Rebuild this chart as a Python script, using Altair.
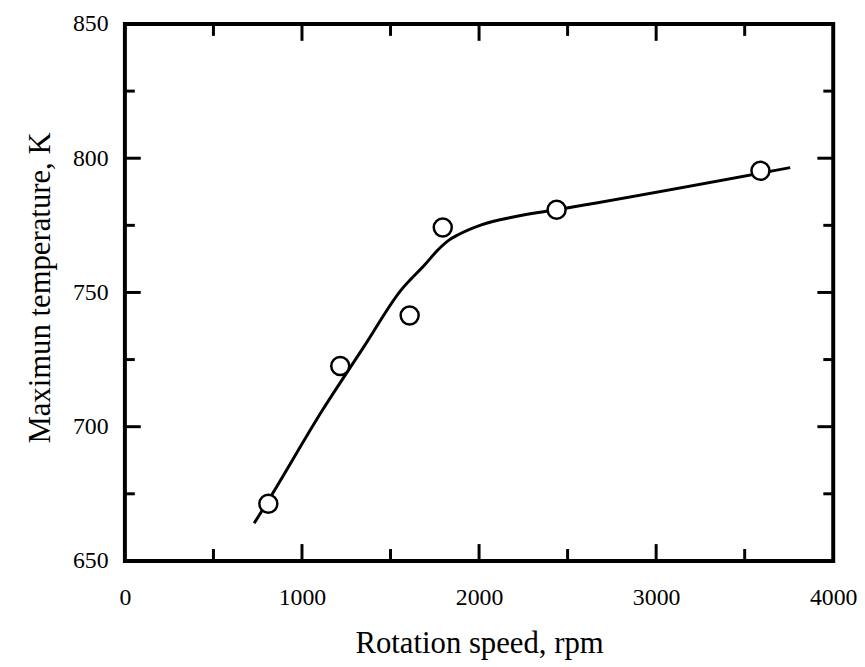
import altair as alt
import pandas as pd

# Observed data (circles)
rpm_obs = [810, 1216, 1608, 1795, 2438, 3589]
temp_obs = [671.3, 722.6, 741.4, 774.2, 780.8, 795.3]

# Fitted curve
curve_rpm = [730, 810, 1117, 1350, 1556, 1696, 1770, 1830, 1882, 2013, 2200, 2438, 3757]
curve_temp = [664, 672.5, 706.3, 729.8, 750.6, 760.5, 766.0, 769.5, 771.5, 775.2, 778.2, 780.8, 796.5]

# Tick values (inward ticks)
x_major = [1000, 2000, 3000]
x_minor = [500, 1500, 2500, 3500]
y_major = [700, 750, 800]
y_minor = [675, 725, 775, 825]

W, H = 715, 542
FONT = "Liberation Serif"

obs = pd.DataFrame({"rpm": rpm_obs, "temp": temp_obs})
curve = pd.DataFrame({"rpm": curve_rpm, "temp": curve_temp})

xscale = alt.Scale(domain=[0, 4000], nice=False, zero=False)
yscale = alt.Scale(domain=[650, 850], nice=False, zero=False)

xaxis = alt.Axis(values=[0, 1000, 2000, 3000, 4000], format="d", ticks=False, tickSize=0, domain=False,
                 grid=False, labelFont=FONT, labelFontSize=24, labelColor="black",
                 labelBaseline="alphabetic", labelPadding=44,
                 title="Rotation speed, rpm", titleFont=FONT, titleFontSize=31,
                 titleFontWeight="normal", titleColor="black",
                 titleBaseline="alphabetic", titleY=92, labelFlush=False)
yaxis = alt.Axis(values=[650, 700, 750, 800, 850], format="d", ticks=False, tickSize=0, domain=False,
                 grid=False, labelFont=FONT, labelFontSize=24, labelColor="black",
                 labelPadding=17, labelFlush=False,
                 title="Maximun temperature, K", titleFont=FONT, titleFontSize=31,
                 titleFontWeight="normal", titleColor="black",
                 titleX=-69, titleY=266)

line = alt.Chart(curve).mark_line(interpolate="monotone", color="black", strokeWidth=3).encode(
    x=alt.X("rpm:Q", scale=xscale, axis=xaxis),
    y=alt.Y("temp:Q", scale=yscale, axis=yaxis),
)

pts = alt.Chart(obs).mark_point(shape="circle", size=330, filled=True, fill="white",
                                stroke="black", strokeWidth=2.5, opacity=1).encode(
    x=alt.X("rpm:Q", scale=xscale),
    y=alt.Y("temp:Q", scale=yscale),
)

def xticks(vals, length):
    df = pd.DataFrame({"v": vals})
    b = alt.Chart(df).mark_rule(color="black", strokeWidth=3).encode(
        x=alt.X("v:Q", scale=xscale), y=alt.value(H), y2=alt.value(H - length))
    t = alt.Chart(df).mark_rule(color="black", strokeWidth=3).encode(
        x=alt.X("v:Q", scale=xscale), y=alt.value(0), y2=alt.value(length))
    return [b, t]

def yticks(vals, length):
    df = pd.DataFrame({"v": vals})
    l = alt.Chart(df).mark_rule(color="black", strokeWidth=3).encode(
        y=alt.Y("v:Q", scale=yscale), x=alt.value(0), x2=alt.value(length))
    r = alt.Chart(df).mark_rule(color="black", strokeWidth=3).encode(
        y=alt.Y("v:Q", scale=yscale), x=alt.value(W - length), x2=alt.value(W))
    return [l, r]

layers = [line] + xticks(x_major, 17) + xticks(x_minor, 12) + yticks(y_major, 16) + yticks(y_minor, 10) + [pts]

chart = alt.layer(*layers).properties(
    width=W, height=H,
    autosize=alt.AutoSizeParams(type="none"),
    padding={"left": 118, "top": 13, "right": 24, "bottom": 110},
    background="white",
).configure_view(stroke="black", strokeWidth=4, fill="white")

chart.save("out.html", embed_options={"renderer": "svg", "actions": False})
